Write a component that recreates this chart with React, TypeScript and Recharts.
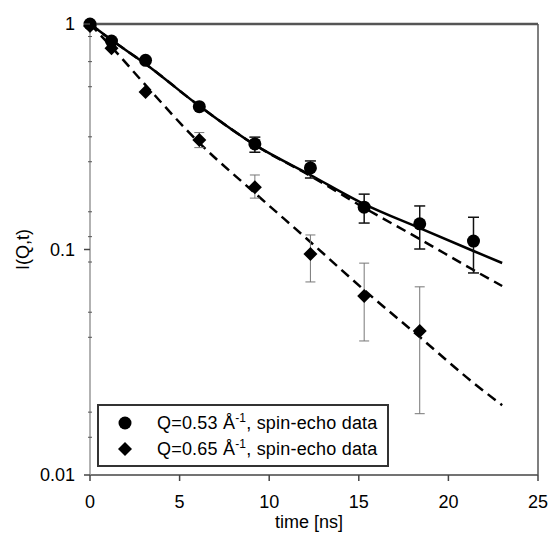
import React from 'react';
import { ComposedChart, Line, Scatter, XAxis, YAxis, ErrorBar, ReferenceLine, Legend } from 'recharts';

const FONT = '"Liberation Sans", Arial, Helvetica, sans-serif';
const FS = 18;

// Q = 0.53 spin-echo data (circles)
const circleT = [0, 1.2, 3.1, 6.1, 9.2, 12.3, 15.3, 18.4, 21.4];
const circleV = [1.0, 0.84, 0.69, 0.43, 0.294, 0.23, 0.154, 0.13, 0.109];
const circleLo = [null, null, null, null, 0.27, 0.2075, 0.131, 0.1005, 0.0787];
const circleHi = [null, null, null, null, 0.315, 0.247, 0.176, 0.156, 0.139];

// Q = 0.65 spin-echo data (diamonds)
const diamondT = [0, 1.2, 3.1, 6.1, 9.2, 12.3, 15.3, 18.4];
const diamondV = [0.98, 0.78, 0.5, 0.306, 0.189, 0.0955, 0.0622, 0.0435];
const diamondLo = [null, null, null, 0.283, 0.169, 0.0718, 0.0393, 0.0187];
const diamondHi = [null, null, null, 0.33, 0.214, 0.116, 0.087, 0.0683];

// fit curves
const fitT = [0, 1.2, 3.1, 6.1, 9.2, 12.3, 15.3, 18.4, 21.4, 23];
const solidFit = [1, 0.849, 0.665, 0.433, 0.291, 0.214, 0.159, 0.1245, 0.0985, 0.0871];
const dashFit1 = [1, 0.849, 0.665, 0.433, 0.291, 0.212, 0.153, 0.1113, 0.0811, 0.0689];
const dashFit2 = [1, 0.791, 0.536, 0.297, 0.178, 0.108, 0.0661, 0.0409, 0.0256, 0.0204];

const xTicks = [0, 5, 10, 15, 20, 25];
const yMajor = [0.01, 0.1, 1];
const yMinor = [0.88, 0.681, 0.527, 0.316, 0.245, 0.147, 0.114, 0.088, 0.0527, 0.0408, 0.019, 0.0147];

const mkErr = (v: number, lo: number | null, hi: number | null) =>
  lo == null || hi == null ? undefined : [v - lo, hi - v];

const circleData = circleT.map((t, i) => ({ t, v: circleV[i], err: mkErr(circleV[i], circleLo[i], circleHi[i]) }));
const diamondData = diamondT.map((t, i) => ({ t, v: diamondV[i], err: mkErr(diamondV[i], diamondLo[i], diamondHi[i]) }));
const solidData = fitT.map((t, i) => ({ t, v: solidFit[i] }));
const dash1Data = fitT.map((t, i) => ({ t, v: dashFit1[i] }));
const dash2Data = fitT.map((t, i) => ({ t, v: dashFit2[i] }));

const TICK = 6;
const TICK_MARGIN = 9;

const YTick = (props: any) => {
  const { x, y, payload } = props;
  const isMajor = yMajor.includes(payload.value);
  const axisX = x + TICK_MARGIN + TICK;
  if (isMajor) {
    return (
      <g>
        <line x1={axisX - TICK} x2={axisX} y1={y} y2={y} stroke="#444" strokeWidth={1.5} />
        <text x={x} y={y} dy="0.36em" textAnchor="end" fontFamily={FONT} fontSize={FS} fill="#000">
          {String(payload.value)}
        </text>
      </g>
    );
  }
  return <line x1={axisX - 2} x2={axisX + 2} y1={y} y2={y} stroke="#555" strokeWidth={1} />;
};

const CircleDot = (p: any) => <circle cx={p.cx} cy={p.cy} r={6.5} fill="#000" />;
const DiamondDot = (p: any) => {
  const s = 7;
  return (
    <polygon
      points={`${p.cx},${p.cy - s} ${p.cx + s},${p.cy} ${p.cx},${p.cy + s} ${p.cx - s},${p.cy}`}
      fill="#000"
    />
  );
};

const supStyle: React.CSSProperties = { fontSize: 12, position: 'relative', top: -7 };

const LegendBox = () => (
  <div
    style={{
      boxSizing: 'border-box',
      width: 292,
      height: 63,
      border: '2px solid #333',
      background: '#fff',
      fontFamily: FONT,
      fontSize: FS,
      color: '#000',
      position: 'relative',
    }}
  >
    <svg width={40} height={63} style={{ position: 'absolute', left: 0, top: 0 }}>
      <circle cx={26} cy={17} r={6.5} fill="#000" />
      <polygon points="26,36 33,43 26,50 19,43" fill="#000" />
    </svg>
    <div style={{ position: 'absolute', left: 58, top: 6, whiteSpace: 'nowrap', lineHeight: '22px', letterSpacing: 0.2 }}>
      Q=0.53 Å<span style={supStyle}>-1</span>, spin-echo data
    </div>
    <div style={{ position: 'absolute', left: 58, top: 32, whiteSpace: 'nowrap', lineHeight: '22px', letterSpacing: 0.2 }}>
      Q=0.65 Å<span style={supStyle}>-1</span>, spin-echo data
    </div>
  </div>
);

export default function App() {
  return (
    <div style={{ position: 'absolute', left: 0, top: 0, width: 551, height: 540, background: '#fff' }}>
      <ComposedChart width={551} height={540} margin={{ top: 24, right: 0, bottom: 0, left: 20 }}>
        <XAxis
          dataKey="t"
          type="number"
          domain={[0, 25]}
          ticks={xTicks}
          interval={0}
          height={65}
          tickSize={6}
          tickMargin={14}
          axisLine={{ stroke: '#444', strokeWidth: 1.5 }}
          tickLine={{ stroke: '#444', strokeWidth: 1.5 }}
          tick={{ fill: '#000', fontSize: FS, fontFamily: FONT }}
          label={{
            content: (p: any) => {
              const vb = p.viewBox;
              return (
                <text x={vb.x + vb.width / 2 - 5} y={vb.y + 53} textAnchor="middle" fontFamily={FONT} fontSize={FS} fill="#000">
                  time [ns]
                </text>
              );
            },
          }}
        />
        <YAxis
          dataKey="v"
          type="number"
          scale="log"
          domain={[0.01, 1]}
          ticks={[...yMajor, ...yMinor]}
          interval={0}
          width={70}
          tickSize={TICK}
          tickMargin={TICK_MARGIN}
          tickLine={false}
          axisLine={{ stroke: '#999', strokeWidth: 1.5 }}
          tick={<YTick />}
          label={{
            content: (p: any) => {
              const vb = p.viewBox;
              const cx = vb.x + 3;
              const cy = vb.y + vb.height / 2;
              return (
                <text
                  x={cx}
                  y={cy}
                  transform={`rotate(-90 ${cx} ${cy})`}
                  textAnchor="middle"
                  dominantBaseline="central"
                  fontFamily={FONT}
                  fontSize={FS}
                  fill="#000"
                >
                  I(Q,t)
                </text>
              );
            },
          }}
        />
        <YAxis
          yAxisId="r"
          orientation="right"
          type="number"
          scale="log"
          domain={[0.01, 1]}
          ticks={yMinor}
          interval={0}
          width={13}
          tick={false}
          tickSize={2}
          axisLine={{ stroke: '#555', strokeWidth: 1.5 }}
          tickLine={{ stroke: '#555', strokeWidth: 1 }}
        />
        <ReferenceLine y={1} stroke="#555" strokeWidth={2.5} />
        <Line data={dash2Data} dataKey="v" type="monotone" stroke="#000" strokeWidth={2.5} strokeDasharray="10 6" dot={false} isAnimationActive={false} />
        <Line data={dash1Data} dataKey="v" type="monotone" stroke="#000" strokeWidth={2.5} strokeDasharray="10 6" dot={false} isAnimationActive={false} />
        <Line data={solidData} dataKey="v" type="monotone" stroke="#000" strokeWidth={2.5} dot={false} isAnimationActive={false} />
        <Scatter data={diamondData} dataKey="v" shape={DiamondDot} isAnimationActive={false}>
          <ErrorBar dataKey="err" direction="y" width={5} stroke="#777" strokeWidth={1} isAnimationActive={false} />
        </Scatter>
        <Scatter data={circleData} dataKey="v" shape={CircleDot} isAnimationActive={false}>
          <ErrorBar dataKey="err" direction="y" width={5.5} stroke="#111" strokeWidth={1.5} isAnimationActive={false} />
        </Scatter>
        <Legend
          layout="horizontal"
          verticalAlign="middle"
          align="center"
          content={() => <LegendBox />}
          wrapperStyle={{ left: 97, top: 404, width: 292, height: 63, right: 'auto', bottom: 'auto' }}
        />
      </ComposedChart>
    </div>
  );
}
